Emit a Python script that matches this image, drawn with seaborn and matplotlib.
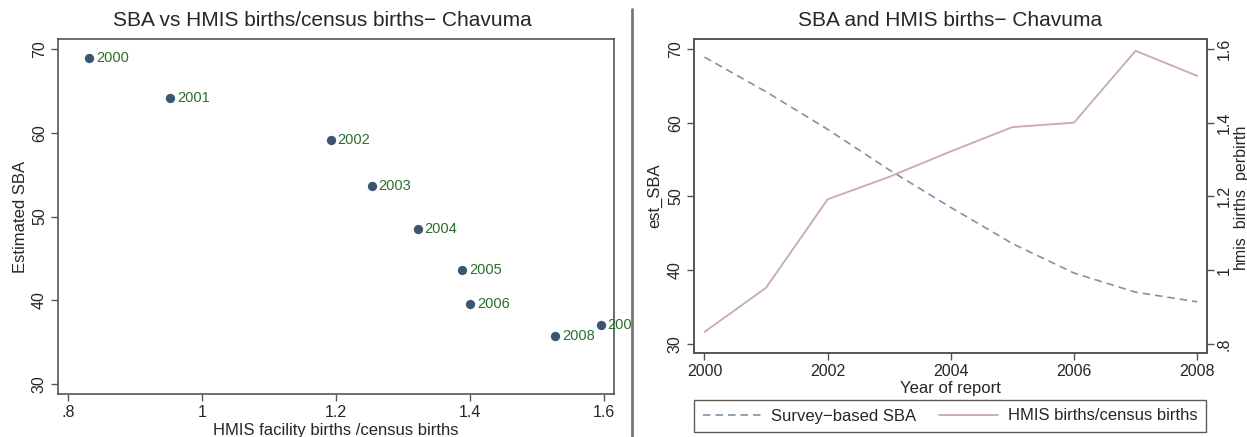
import matplotlib
matplotlib.use("Agg")
import matplotlib.pyplot as plt
import seaborn as sns
import pandas as pd
from matplotlib.lines import Line2D
from matplotlib.transforms import Bbox, TransformedBbox

# data
years = [2000, 2001, 2002, 2003, 2004, 2005, 2006, 2007, 2008]
est_sba = [68.9, 64.2, 59.1, 53.6, 48.5, 43.6, 39.6, 37.0, 35.7]
hmis_ratio = [0.832, 0.952, 1.192, 1.253, 1.322, 1.388, 1.400, 1.595, 1.527]

df = pd.DataFrame({'year': years, 'est_SBA': est_sba, 'hmis': hmis_ratio})

sns.set_style("white")
plt.rcParams['font.family'] = ['Liberation Sans', 'DejaVu Sans']

marker_col = '#3b5670'
label_col = '#2d6e2d'
dash_col = '#7d93aa'
solid_col = '#c9aaa7'
frame_col = '#555555'
dash = (0, (4.5, 3))

W, H = 1247, 437
fig = plt.figure(figsize=(W / 100, H / 100), dpi=100)

def px_axes(l, t, r, b):
    return fig.add_axes([l / W, 1 - b / H, (r - l) / W, (b - t) / H])

def style(ax, side='left'):
    for s in ax.spines.values():
        s.set_color(frame_col)
        s.set_linewidth(1.2)
    ax.tick_params(direction='out', length=5, width=1, color=frame_col,
                   labelsize=11.5, pad=3, bottom=True)
    if side == 'left':
        ax.tick_params(axis='y', left=True, right=False)
    else:
        ax.tick_params(axis='y', left=False, right=True, pad=2)
    ax.tick_params(axis='y', labelrotation=90)
    for t in ax.get_yticklabels():
        t.set_va('center')

# left panel: scatter with year labels
ax1 = px_axes(58, 39, 614, 394)
sns.scatterplot(data=df, x='hmis', y='est_SBA', ax=ax1, color=marker_col,
                s=45, edgecolor=marker_col, linewidth=0, zorder=3)
ax1.set_xlim(0.785, 1.615)
ax1.set_ylim(28.8, 71.2)
ax1.set_xticks([0.8, 1.0, 1.2, 1.4, 1.6])
ax1.set_xticklabels(['.8', '1', '1.2', '1.4', '1.6'])
ax1.set_yticks([30, 40, 50, 60, 70])
ax1.set_xlabel('HMIS facility births /census births', fontsize=12, labelpad=2)
ax1.set_ylabel('Estimated SBA', fontsize=12, labelpad=3)
ax1.set_title('SBA vs HMIS births/census births\u2212 Chavuma', fontsize=15, pad=9,
              x=(322 - 58) / (614 - 58))
style(ax1)
clip = TransformedBbox(Bbox([[0, 0], [631 / W, 1]]), fig.transFigure)
for yr, xv, yv in zip(years, hmis_ratio, est_sba):
    t = ax1.annotate(str(yr), (xv, yv), xytext=(5, 0), textcoords='offset points',
                     va='center', ha='left', fontsize=10.5, color=label_col,
                     annotation_clip=False)
    t.set_clip_box(clip)
    t.set_clip_on(True)

# right panel: two series, twin y axes
ax2 = px_axes(694, 39, 1207, 353)
sns.lineplot(data=df, x='year', y='est_SBA', ax=ax2, color=dash_col,
             linestyle=dash, linewidth=1.2)
ax2.set_xlim(1999.83, 2008.16)
ax2.set_ylim(28.75, 71.36)
ax2.set_xticks([2000, 2002, 2004, 2006, 2008])
ax2.set_yticks([30, 40, 50, 60, 70])
ax2.set_xlabel('Year of report', fontsize=12, labelpad=1)
ax2.set_ylabel('est_SBA', fontsize=12, labelpad=4)
ax2.set_title('SBA and HMIS births\u2212 Chavuma', fontsize=15, pad=9)
style(ax2)

ax3 = ax2.twinx()
sns.lineplot(data=df, x='year', y='hmis', ax=ax3, color=solid_col, linewidth=1.3)
ax3.set_ylim(0.775, 1.627)
ax3.set_yticks([0.8, 1.0, 1.2, 1.4, 1.6])
ax3.set_yticklabels(['.8', '1', '1.2', '1.4', '1.6'])
ax3.set_ylabel('hmis_births_perbirth', fontsize=11.5, labelpad=1)
style(ax3, side='right')
for t in ax3.get_yticklabels():
    t.set_va('center')

handles = [Line2D([], [], color=dash_col, linestyle=dash, linewidth=1.2),
           Line2D([], [], color=solid_col, linewidth=1.3)]
leg = fig.legend(handles, ['Survey\u2212based SBA', 'HMIS births/census births'],
                 loc='center', bbox_to_anchor=(950 / W, 1 - 416 / H), ncol=2,
                 fontsize=12, frameon=True, fancybox=False, handlelength=3.5,
                 handletextpad=0.6, columnspacing=1.4, borderpad=0.5)
leg.get_frame().set_edgecolor('#333333')
leg.get_frame().set_linewidth(1)

# separator between the panels
fig.add_artist(Line2D([632 / W, 632 / W], [0, 1 - 9 / H], transform=fig.transFigure,
                      color='#777777', linewidth=2))

fig.savefig('out.png', dpi=100)
